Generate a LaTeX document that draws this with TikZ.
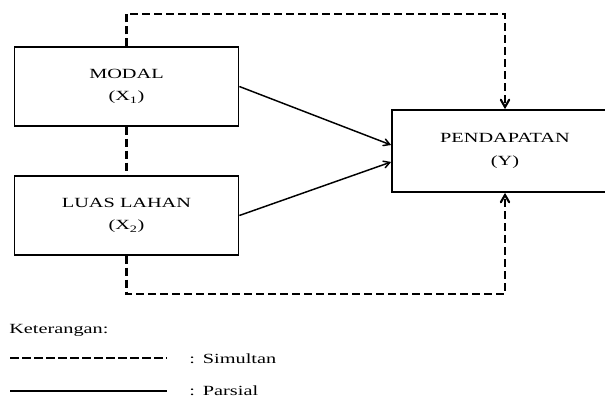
\documentclass[tikz,border=0pt]{standalone}
\usepackage{fontspec}
\setmainfont{Liberation Serif}[FakeStretch=1.45]
\usetikzlibrary{arrows, calc}

\tikzset{
  kotak/.style={draw, rectangle, line width=1.3pt, align=center, inner sep=0pt,
    minimum width=168pt, minimum height=59pt, font=\fontsize{10.5}{17}\selectfont},
  simultan/.style={line width=1.6pt, dash pattern=on 6pt off 3pt},
  parsial/.style={line width=1.1pt},
}

\begin{document}
\begin{tikzpicture}[line cap=butt,line join=miter,>=angle 60,x=0.75pt,y=-0.75pt]
\clip(0, 0) rectangle (605, 398);

\node[kotak] (modal) at (126.5, 86.5) {MODAL\\(X\textsubscript{1})};
\node[kotak] (luas) at (126.5, 215.5) {LUAS LAHAN\\(X\textsubscript{2})};
\node[kotak, minimum width=169.5pt, minimum height=61.5pt] (pendapatan) at (505, 151) {PENDAPATAN\\(Y)};

\coordinate (atas) at (126.5, 14);
\coordinate (bawah) at (126.5, 294);

% simultan
\draw[simultan] (modal.south) -- (luas.north);
\draw[simultan,->] (modal.north) -- (atas) -| (pendapatan.north);
\draw[simultan,->] (luas.south) -- (bawah) -| (pendapatan.south);

% parsial
\draw[parsial,->] (modal.east) -- ($(pendapatan.west)+(0,-6)$);
\draw[parsial,->] (luas.east) -- ($(pendapatan.west)+(0,11)$);

% keterangan
\begin{normalsize}
\node[anchor=base west, inner sep=0pt, font=\fontsize{10.5}{12}\selectfont] (ket) at (9, 333) {Keterangan:};
\draw[line width=1.5pt, dash pattern=on 6.5pt off 2.5pt] (10, 358) -- (167, 358);
\draw[line width=1.5pt] (10, 391) -- (167, 391);
\node[anchor=base west, inner sep=0pt, font=\fontsize{10.5}{12}\selectfont] (lsim) at (189, 363) {:\hspace{6pt}Simultan};
\node[anchor=base west, inner sep=0pt, font=\fontsize{10.5}{12}\selectfont] (lpar) at (189, 395) {:\hspace{6pt}Parsial};
\end{normalsize}
\end{tikzpicture}
\end{document}
